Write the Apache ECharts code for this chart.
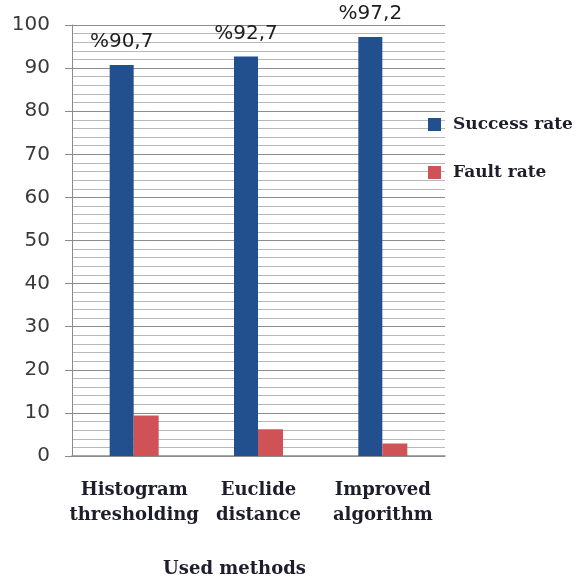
<!DOCTYPE html>
<html>
<head>
<meta charset="utf-8">
<script src="https://cdn.jsdelivr.net/npm/echarts@6/dist/echarts.min.js"></script>
<style>
  html, body { margin: 0; padding: 0; background: #ffffff; }
  #chart { width: 579px; height: 581px; }
</style>
</head>
<body>
<div id="chart"></div>
<script>
// Method names shown along the category axis
const methods = ['Histogram\nthresholding', 'Euclide\ndistance', 'Improved\nalgorithm'];
// Percent of correct results per method
const successRate = [90.7, 92.7, 97.2];
// Percent of faulty results per method
const faultRate = [9.4, 6.2, 2.9];
const seriesNames = ['Success rate', 'Fault rate'];
const axisTitle = 'Used methods';

const serifBold = { fontFamily: 'DejaVu Serif', fontWeight: 'bold', color: '#1d1d2b' };

const chart = echarts.init(document.getElementById('chart'));
chart.setOption({
  backgroundColor: '#ffffff',
  animation: false,
  grid: { left: 72, right: 134, top: 25, bottom: 125, containLabel: false, outerBoundsMode: 'none' },
  legend: {
    orient: 'vertical',
    left: 423,
    top: 111,
    itemWidth: 13,
    itemHeight: 13,
    itemGap: 31,
    icon: 'rect',
    textStyle: Object.assign({ fontSize: 17, padding: [0, 0, 0, 7] }, serifBold),
    data: seriesNames
  },
  xAxis: {
    type: 'category',
    data: methods,
    name: axisTitle,
    nameLocation: 'middle',
    nameGap: 104,
    nameTextStyle: Object.assign({ fontSize: 18, padding: [0, 48, 0, 0] }, serifBold),
    axisLine: { lineStyle: { color: '#8a8a8a', width: 1.5 } },
    axisTick: { show: false },
    axisLabel: Object.assign({ fontSize: 18, lineHeight: 25, margin: 22, interval: 0 }, serifBold)
  },
  yAxis: {
    type: 'value',
    min: 0,
    max: 100,
    interval: 10,
    axisLine: { show: true, lineStyle: { color: '#8a8a8a', width: 1 } },
    axisTick: { show: true, length: 7, lineStyle: { color: '#8a8a8a' } },
    axisLabel: { fontFamily: 'DejaVu Sans', fontSize: 20, color: '#3a3a3a', margin: 22 },
    splitLine: { show: true, lineStyle: { color: '#8c8c8c', width: 1.2 } },
    minorTick: { show: false, splitNumber: 5 },
    minorSplitLine: { show: true, lineStyle: { color: '#b8b8b8', width: 1 } }
  },
  series: [
    {
      name: seriesNames[0],
      type: 'bar',
      data: successRate,
      barWidth: 24,
      barGap: '0%',
      itemStyle: { color: '#22508f' },
      label: {
        show: true,
        position: 'top',
        distance: 13,
        fontFamily: 'DejaVu Sans',
        fontSize: 20,
        color: '#1e1e1e',
        formatter: p => '%' + String(p.value).replace('.', ',')
      }
    },
    {
      name: seriesNames[1],
      type: 'bar',
      data: faultRate,
      barWidth: 25,
      itemStyle: { color: '#cf5257' }
    }
  ]
});
</script>
</body>
</html>
